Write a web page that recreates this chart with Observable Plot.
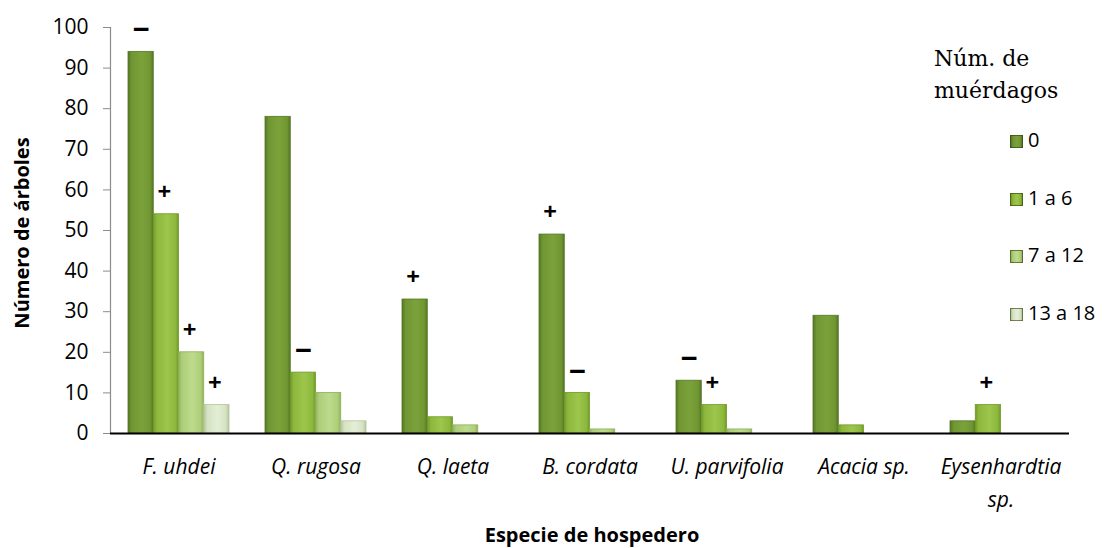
<!DOCTYPE html>
<html>
<head>
<meta charset="utf-8">
<script src="https://cdn.jsdelivr.net/npm/d3@7"></script>
<script src="https://cdn.jsdelivr.net/npm/@observablehq/plot@0.6"></script>
<style>
  html, body { margin: 0; padding: 0; background: #fff; }
  #wrap { position: relative; width: 1110px; height: 548px; overflow: hidden; font-family: "Open Sans", sans-serif; }
  .ov { position: absolute; white-space: nowrap; color: #000; }
  #ytitle { left: 22px; top: 233px; transform: translate(-50%, -50%) rotate(-90deg); font-weight: bold; font-size: 20px; line-height: 22px; }
  #xtitle { left: 592px; top: 535px; transform: translate(-50%, -50%); font-weight: bold; font-size: 20px; line-height: 22px; }
  #legtitle { left: 934px; top: 43px; font-family: "DejaVu Serif", serif; font-size: 22px; line-height: 32px; }
  .li { position: absolute; left: 1010px; font-size: 20px; line-height: 22px; }
  .sw { display: inline-block; width: 13px; height: 13px; vertical-align: -1px; margin-right: 5px; border: 0.5px solid rgba(40,60,10,0.6); box-sizing: border-box; }
</style>
</head>
<body>
<div id="wrap"></div>
<script>
// ---- data ----
const species = ["F. uhdei", "Q. rugosa", "Q. laeta", "B. cordata", "U. parvifolia", "Acacia sp.", "Eysenhardtia sp."];
const speciesLabels = ["F. uhdei", "Q. rugosa", "Q. laeta", "B. cordata", "U. parvifolia", "Acacia sp.", "Eysenhardtia\nsp."];
const seriesNames = ["0", "1 a 6", "7 a 12", "13 a 18"];
const values0 = [94, 78, 33, 49, 13, 29, 3];
const values1 = [54, 15, 4, 10, 7, 2, 7];
const values2 = [20, 10, 2, 1, 1, 0, 0];
const values3 = [7, 3, 0, 0, 0, 0, 0];
const signs0 = ["−", "", "+", "+", "−", "", ""];
const signs1 = ["+", "−", "", "−", "+", "", "+"];
const signs2 = ["+", "", "", "", "", "", ""];
const signs3 = ["+", "", "", "", "", "", ""];
const yTicks = [0, 10, 20, 30, 40, 50, 60, 70, 80, 90, 100];
const legendTitle = "Núm. de\nmuérdagos";
const xTitle = "Especie de hospedero";
const yTitle = "Número de árboles";

// ---- styles ----
const seriesColors = [
  {edge: "#557624", body: "#6f9632", light: "#7ba23a"},
  {edge: "#6f9a2a", body: "#8cb83c", light: "#9cc64c"},
  {edge: "#8fb05c", body: "#aece7a", light: "#bddb8c"},
  {edge: "#b4c49c", body: "#d5e2c2", light: "#e4eed6"}
];

const allValues = [values0, values1, values2, values3];
const allSigns = [signs0, signs1, signs2, signs3];

const width = 1110, height = 548;
const marginLeft = 110, marginRight = 41, marginTop = 27, marginBottom = 115;
const paddingInner = 0.263, paddingOuter = paddingInner / 2;
const step = (width - marginLeft - marginRight) / (species.length - paddingInner + 2 * paddingOuter);
const bw = step * (1 - paddingInner);
const sub = bw / seriesNames.length;

const marks = [];
seriesNames.forEach((name, i) => {
  const rows = species.map((s, j) => ({species: s, value: allValues[i][j], sign: allSigns[i][j]}));
  marks.push(Plot.barY(rows.filter(d => d.value > 0), {
    x: "species", y: "value",
    insetLeft: i * sub, insetRight: (seriesNames.length - 1 - i) * sub,
    fill: `url(#g${i})`, stroke: seriesColors[i].edge, strokeWidth: 0.8
  }));
  marks.push(Plot.text(rows.filter(d => d.sign === "+"), {
    x: "species", y: "value", text: "sign",
    dx: -bw / 2 + (i + 0.5) * sub - 2, dy: -22,
    fontSize: 24, fontWeight: "bold", fill: "#000"
  }));
  marks.push(Plot.text(rows.filter(d => d.sign === "−"), {
    x: "species", y: "value", text: "sign",
    dx: -bw / 2 + (i + 0.5) * sub, dy: -21,
    fontSize: 30, fontWeight: "bold", fill: "#000"
  }));
});

const plot = Plot.plot({
  width, height, marginLeft, marginRight, marginTop, marginBottom,
  style: {fontFamily: "Open Sans, sans-serif", fontSize: "20px", color: "#000", background: "transparent"},
  x: {domain: species, paddingInner, paddingOuter, label: null},
  y: {domain: [0, 100], label: null},
  marks: [
    Plot.frame({anchor: "left", stroke: "#8c8c8c", strokeWidth: 1.2}),
    Plot.axisY({ticks: yTicks, tickSize: 7, tickPadding: 15, stroke: "#8c8c8c", fill: "#000", label: null, fontSize: 21}),
    Plot.axisX({tickSize: 0, tickPadding: 17, label: null, fontStyle: "italic", fontSize: 21, lineHeight: 1.58,
      tickFormat: d => speciesLabels[species.indexOf(d)]}),
    ...marks,
    Plot.ruleY([0], {stroke: "#000", strokeWidth: 2})
  ]
});

// gradients
const svg = d3.select(plot);
const defs = svg.insert("defs", ":first-child");
seriesColors.forEach((c, i) => {
  const g = defs.append("linearGradient").attr("id", `g${i}`).attr("x1", "0").attr("x2", "1").attr("y1", "0").attr("y2", "0");
  g.append("stop").attr("offset", "0%").attr("stop-color", c.edge);
  g.append("stop").attr("offset", "14%").attr("stop-color", c.body);
  g.append("stop").attr("offset", "55%").attr("stop-color", c.light);
  g.append("stop").attr("offset", "88%").attr("stop-color", c.body);
  g.append("stop").attr("offset", "100%").attr("stop-color", c.edge);
});

const wrap = document.getElementById("wrap");
wrap.appendChild(plot);

function ov(id, text) {
  const d = document.createElement("div");
  d.className = "ov"; d.id = id; d.textContent = text;
  wrap.appendChild(d);
  return d;
}
ov("ytitle", yTitle);
ov("xtitle", xTitle);
const lt = ov("legtitle", "");
lt.innerHTML = legendTitle.split("\n").join("<br>");

const legendTops = [140, 198, 255, 313];
seriesNames.forEach((name, i) => {
  const item = document.createElement("div");
  item.className = "li";
  item.style.top = (legendTops[i] - 11) + "px";
  const sw = document.createElement("span");
  sw.className = "sw";
  const c = seriesColors[i];
  sw.style.background = `linear-gradient(to right, ${c.edge}, ${c.body} 20%, ${c.light} 55%, ${c.body} 85%, ${c.edge})`;
  item.appendChild(sw);
  item.appendChild(document.createTextNode(name));
  wrap.appendChild(item);
});
</script>
</body>
</html>
